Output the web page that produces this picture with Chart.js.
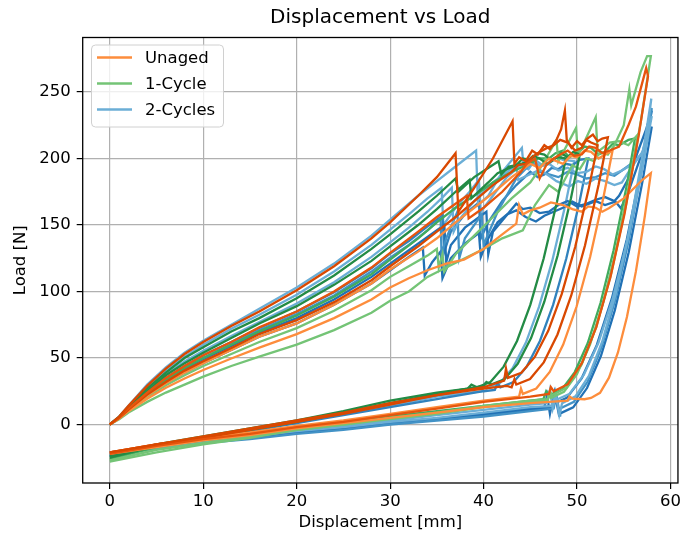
<!DOCTYPE html>
<html>
<head>
<meta charset="utf-8">
<script src="https://cdn.jsdelivr.net/npm/chart.js@4"></script>
<style>
  html, body { margin: 0; padding: 0; background: #fff; }
  canvas { display: block; }
</style>
</head>
<body>
<canvas id="c" width="684" height="535"></canvas>
<script>
// Displacement [mm], Load [N] pairs: loading, unloading and return of each specimen.
const unagedA = [[0,0],[1,6],[2,14],[4,29],[6,42],[8,53],[10,62],[13,74],[16,85],[20,101],[24,119],[28,140],[30,152],[33,172],[35,186],[37,204],[37.3,160],[39,178],[41,200],[43.1,228],[43.3,196],[43.8,201],[44.5,198],[45.2,206],[45.8,203],[46.5,210],[47.1,207],[47.8,214],[48.3,222],[48.7,236],[48.9,214],[49.4,208],[50,213],[50.5,210],[51.1,215],[51.7,218],[52.2,213],[52.7,215],[53.3,216],[52.32,180.7],[50.85,134.6],[49.38,97],[47.91,67.7],[46.44,46.7],[44.97,34.2],[43.5,30],[43.3,34],[43,28],[42.5,29],[40,27],[35,22],[30,16],[25,9],[20,3],[15,-3],[10,-9],[5,-15],[0,-21]];
const unagedB = [[0,0],[1,5.2],[2,12],[4,24],[6,35],[8,44],[10,52],[13,62],[16,73],[20,85],[24,100],[28,118],[30,129],[33,145],[35,156],[37,166],[38.2,172],[38.4,155],[40,163],[42,175],[44,190],[44.6,196],[45.5,200],[46,185],[46.7,195],[47.5,200],[48.2,203],[49,206],[49.7,202],[50.5,203],[51.3,209],[52,208],[52.7,204],[53.5,206],[54.5,209],[55.5,225],[56.3,239],[57.4,268],[57.6,262],[56.59,217],[55.08,158.3],[53.56,110.3],[52.05,73],[50.53,46.3],[49.02,30.3],[47.5,25],[47.2,28],[47,23],[45,21],[40,17],[35,12],[30,7],[25,2],[20,-2],[15,-7],[10,-11],[5,-16],[0,-22]];
const unagedC = [[0,0],[1,4.9],[2,11.2],[4,22.5],[6,32],[8,40.5],[10,47.5],[13,57.5],[16,68],[20,78.5],[24,92],[28,108.5],[30,119],[33,134],[35,145],[37,156],[39,168],[41,180],[43,190],[43.7,195],[44.5,196],[45.2,201],[46,205],[46.8,208],[47.5,210],[48.2,214],[49,212],[49.8,206],[50.5,208],[51,214],[51.5,212],[52.2,210],[51.24,176.8],[49.8,133.4],[48.36,98],[46.92,70.4],[45.48,50.8],[44.04,38.9],[42.6,35],[42.4,42],[42.2,33],[40,28],[35,22],[30,15],[25,8],[20,2],[15,-4],[10,-10],[5,-15],[0,-21]];
const unagedD = [[0,0],[1,4.4],[2,10],[4,19.4],[6,27.6],[8,34.6],[10,41],[13,49.6],[16,57.8],[20,68],[24,80],[28,94],[30,103],[32,110],[34,116],[36,121],[37.9,124],[40,132],[42,143],[43.5,151],[43.8,165],[44.2,158],[45,161],[46,163],[47.2,167],[48.5,165],[49.5,162],[50.5,160],[51.2,164],[52,163],[52.7,160],[53.4,162.6],[55,170],[57,184],[57.9,189],[57.26,156.9],[56.3,115.1],[55.34,80.8],[54.38,54.2],[53.42,35.2],[52.46,23.8],[51.5,20],[50.8,19],[49.5,19.5],[49.2,21],[49,18],[45,16],[40,13],[35,9],[30,5],[25,1],[20,-3],[15,-8],[10,-12],[5,-17],[0,-22]];
const unagedE = [[0,0],[1,4.8],[2,11],[4,21.8],[6,31],[8,39],[10,46],[13,56],[16,66],[20,76],[24,90],[28,106],[30,116.5],[33,130],[35,140],[37,152],[39,163],[41,174],[43,186],[45,196],[46,193],[47,200],[47.8,198],[48.5,196],[49.3,202],[50,201],[50.8,206],[51.5,205],[52.3,200],[53,203],[53.8,206],[52.84,171.2],[51.4,125.9],[49.96,88.9],[48.52,60.1],[47.08,39.5],[45.64,27.1],[44.2,23],[44,27],[43.8,21],[40,18],[35,13],[30,8],[25,3],[20,-1],[15,-6],[10,-10],[5,-15],[0,-21]];

const cycle1A = [[0,0],[1,5.7],[2,13],[4,27],[6,39],[8,50],[10,58],[13,70],[16,80],[20,95],[24,112],[28,132],[30,143],[33,160],[35,172],[37,185],[37.3,175],[39,186],[41.6,198],[41.9,188],[42.7,194],[43.5,195],[44.2,200],[45,199],[45.8,204],[46.5,203],[47.2,199],[48,201],[48.8,200],[47.85,167.3],[46.43,124.8],[45,89.9],[43.58,62.8],[42.15,43.5],[40.73,31.9],[39.3,28],[38.7,30],[38.3,27],[35,24],[30,18],[25,10],[20,3],[15,-3],[10,-9],[5,-15],[0,-24]];
const cycle1B = [[0,0],[1,5.4],[2,12.5],[4,25],[6,37],[8,46],[10,54],[13,65],[16,76],[20,89],[24,105],[28,123],[30,134],[33,150],[35,162],[37,175],[38.5,184],[38.7,170],[40.5,182],[41.5,189],[42.5,192],[43.5,195],[44.5,197],[45.3,202],[46,200],[46.8,196],[47.5,199],[48.3,204],[49,201],[49.6,205],[50.3,203],[49.35,170.1],[47.93,127.3],[46.5,92.3],[45.08,65],[43.65,45.6],[42.23,33.9],[40.8,30],[40.3,32],[40,29],[35,23],[30,16],[25,9],[20,2],[15,-4],[10,-10],[5,-16],[0,-25]];
const cycle1C = [[0,0],[1,4],[2,9],[4,17],[6,24],[8,30],[10,36],[13,44],[16,51],[20,60],[24,71],[28,84],[30,93],[32,100],[34,111],[36,118],[38,125],[40,132],[42,140],[44.2,146],[45.5,165],[47,180],[48,175],[49.5,195],[50.3,192],[51,200],[51.8,198],[52.5,205],[53.3,203],[54,210],[55,225],[55.6,252],[55.8,240],[56.8,265],[57.5,277],[57.9,277],[56.84,228.6],[55.25,165.4],[53.66,113.8],[52.07,73.6],[50.48,45],[48.89,27.7],[47.3,22],[47.1,25],[46.9,19],[45,18],[40,14],[35,9],[30,5],[25,0],[20,-4],[15,-10],[10,-15],[5,-21],[0,-28]];
const cycle1D = [[0,0],[1,4.6],[2,10.5],[4,20.6],[6,29.5],[8,37],[10,44],[13,53],[16,62],[20,72.5],[24,85.5],[28,101],[30,111],[32,119],[34,127],[35,132],[35.2,118],[35.6,128],[35.8,115],[37,128],[39,142],[41,156],[43,170],[45,182],[46,192],[47.8,214],[48,198],[49.9,223],[50.1,202],[52,231],[52.2,205],[53.5,212],[54.5,213],[55.5,210],[56.5,218],[55.57,180.4],[54.18,131.4],[52.78,91.3],[51.39,60.1],[49.99,37.8],[48.6,24.5],[47.2,20],[47,23],[46.8,18],[45,17],[40,13],[35,8],[30,4],[25,0],[20,-4],[15,-9],[10,-14],[5,-19],[0,-27]];
const cycle1E = [[0,0],[1,5],[2,11.5],[4,23],[6,33.5],[8,42.5],[10,50],[13,60],[16,70],[20,82],[24,96],[28,113],[30,124],[33,140],[35,152],[37,163],[39,172],[41,182],[43,190],[45,196],[45.8,200],[47,200],[47.7,204],[48.5,206],[49.2,201],[50,204],[50.8,209],[51.5,208],[52.3,203],[53,205],[53.8,211],[54.5,210],[55.5,214],[56.2,215],[55.28,178.3],[53.9,130.6],[52.52,91.5],[51.14,61.1],[49.76,39.4],[48.38,26.3],[47,22],[46.7,25],[46.4,19],[45,18],[40,14],[35,10],[30,6],[25,1],[20,-3],[15,-8],[10,-12],[5,-17],[0,-26]];

const cycle2A = [[0,0],[1,6],[2,14],[4,30],[6,43],[8,54],[10,63],[13,75],[16,87],[20,103],[24,121],[28,142],[30,154],[33,172],[35,183],[37,194],[39.2,206],[39.4,165],[40.5,172],[42,190],[44.1,208],[44.3,192],[45.3,198],[46.1,194],[47,196],[48,191],[49,193],[50,189],[51,190],[52,194],[52.9,192],[53.8,188],[54.8,191],[56,196],[57,204],[57.6,225],[57.95,245],[56.99,201.5],[55.56,144.8],[54.13,98.4],[52.7,62.4],[51.27,36.6],[49.83,21.2],[48.4,16],[48.1,7],[47.7,24],[47.4,14],[45,13],[40,9],[35,5],[30,2],[25,-2],[20,-5],[15,-9],[10,-13],[5,-17],[0,-24]];
const cycle2B = [[0,0],[1,5.5],[2,12.7],[4,26],[6,37.5],[8,47.3],[10,55.5],[13,66.5],[16,77],[20,91],[24,107],[28,126],[30,137],[32,148],[34,160],[35.5,170],[36.6,178],[36.8,145],[37.5,155],[39,168],[41,182],[43.5,195],[43.7,184],[46,191.5],[47,187],[47.8,183],[49.2,179],[50.1,183],[51,181],[52,185],[53,183],[54,180],[54.8,182],[55.9,194],[57,205],[57.7,222],[58,232],[56.96,191.3],[55.4,138.4],[53.84,95],[52.28,61.3],[50.72,37.3],[49.16,22.8],[47.6,18],[47.4,12],[47.1,26],[46.8,16],[45,15],[40,11],[35,7],[30,3],[25,-1],[20,-4],[15,-8],[10,-12],[5,-16],[0,-21]];
const cycle2C = [[0,0],[1,5.1],[2,11.7],[4,23.6],[6,34],[8,43],[10,50],[13,60.5],[16,71],[20,83],[24,97],[28,115],[30,125.5],[32,135],[34,146],[35.4,155],[35.5,128],[36,140],[37.2,160],[37.4,125],[38,140],[39.8,158],[40,135],[41.5,160],[43.5,185],[45.3,198],[46,190],[47,188],[48,186],[49,190],[50,188],[51,185],[52,186],[53,189],[54,187],[54.8,191],[56,197],[57,204],[57.6,220],[58,238],[57.02,195.1],[55.55,139.1],[54.08,93.4],[52.61,57.8],[51.14,32.3],[49.67,17.1],[48.2,12],[48.2,6],[47.8,22],[47.5,12],[45,10],[40,6],[35,3],[30,0],[25,-4],[20,-7],[15,-11],[10,-14],[5,-18],[0,-23]];
const cycle2D = [[0,0],[1,4.8],[2,11],[4,22],[6,31],[8,39],[10,46],[13,56],[16,66],[20,76],[24,90],[28,106],[30,116],[32,126],[33.5,133],[33.7,112],[34.5,122],[35.4,130],[35.6,110],[36.5,125],[38,136],[39.5,144],[39.7,126],[40.5,140],[41.5,152],[42.5,158],[43.5,161],[44.5,156],[45.6,152.6],[46.5,157],[47.5,160],[48.5,163],[49.5,167.6],[50.5,164],[51.3,166],[52,168],[53,165],[54.1,167.6],[54.7,162.6],[55.5,175],[56.5,195],[57.4,212],[58,224],[57.01,183],[55.53,129.5],[54.04,85.8],[52.56,51.7],[51.07,27.4],[49.59,12.9],[48.1,8],[48.1,6],[47.6,24],[47.3,13],[45,11],[40,7],[35,4],[30,0.5],[25,-3],[20,-6],[15,-10],[10,-13],[5,-17],[0,-22]];
const cycle2E = [[0,0],[1,5],[2,11.5],[4,23],[6,33],[8,42],[10,49],[13,59],[16,69],[20,80],[24,94],[28,111],[30,121],[32,131],[34,141],[35.8,150],[36,122],[36.5,135],[38,148],[40.3,160],[40.5,128],[41,145],[43.5,166],[44.2,162],[45,163],[46,159],[47,160],[48,165],[49,168],[50,164],[51,166],[52,169],[53,171],[54,168],[54.5,172],[55.5,185],[56.5,205],[57.4,222],[58,236],[56.93,194],[55.33,139.3],[53.72,94.6],[52.12,59.8],[50.51,34.9],[48.91,20],[47.3,15],[47.1,8],[46.8,22],[46.5,13],[45,12],[40,8],[35,4],[30,1],[25,-3],[20,-6],[15,-10],[10,-13],[5,-17],[0,-21]];
const cycle2F = [[0,0],[1,5.2],[2,12],[4,24],[6,35],[8,44],[10,52],[13,62],[16,72.5],[20,85],[24,99.5],[28,117.5],[30,128.5],[32,138],[34,149],[35.6,157],[35.8,130],[36.5,145],[38,158],[39.5,167],[39.7,140],[40.5,152],[42,168],[43.5,180],[45,190],[45.8,186],[46.5,188],[47.3,193],[48,192],[48.8,196],[49.5,195],[50.3,199],[51.2,200],[50.26,167.3],[48.85,124.8],[47.44,89.9],[46.03,62.8],[44.62,43.5],[43.21,31.9],[41.8,28],[41.5,31],[41.2,26],[40,25],[35,19],[30,13],[25,7],[20,1],[15,-5],[10,-11],[5,-16],[0,-24]];
const cycle2G = [[0,0],[1,5.8],[2,13.5],[4,28],[6,40.5],[8,51],[10,60],[13,72],[16,82.5],[20,97.5],[24,115],[28,135],[30,146.5],[32,158],[34,170],[35.5,178],[35.7,150],[37,163],[38.5,175],[39.5,184],[39.7,160],[41,172],[42.5,186],[44,195],[44.8,192],[45.5,199],[46.3,195],[47,196],[47.8,201],[48.5,199],[49.7,198],[48.76,165.5],[47.35,123.2],[45.94,88.6],[44.53,61.6],[43.12,42.4],[41.71,30.8],[40.3,27],[40.1,30],[39.8,25],[35,21],[30,14],[25,8],[20,2],[15,-4],[10,-10],[5,-15],[0,-23]];

const groupNames = ['Unaged', '1-Cycle', '2-Cycles'];
const xTicks = [0, 10, 20, 30, 40, 50, 60];
const yTicks = [0, 50, 100, 150, 200, 250];

// Line colours: light, mid and dark shades per group
const shades = {
  orangeLight: '#fd8d3c', orangeDark: '#d94801', orangeMid: '#e6550d',
  greenLight: '#74c476', greenDark: '#238b45', greenMid: '#41ab5d',
  blueLight: '#6baed6', blueDark: '#2171b5', blueMid: '#4292c6', blueMid2: '#3182bd'
};
const legendColors = ['#fd8d3c', '#74c476', '#6baed6'];

const specimens = [
  [unagedA, shades.orangeDark], [unagedB, shades.orangeMid], [unagedC, shades.orangeDark],
  [unagedD, shades.orangeLight], [unagedE, shades.orangeLight],
  [cycle1A, shades.greenDark], [cycle1B, shades.greenDark], [cycle1C, shades.greenLight],
  [cycle1D, shades.greenLight], [cycle1E, shades.greenMid],
  [cycle2A, shades.blueLight], [cycle2B, shades.blueLight], [cycle2C, shades.blueMid],
  [cycle2D, shades.blueDark], [cycle2E, shades.blueDark], [cycle2F, shades.blueMid2],
  [cycle2G, shades.blueLight]
];

const FONT = '"DejaVu Sans", "Liberation Sans", sans-serif';

const datasets = specimens.map(([pts, color]) => ({
  data: pts.map(([x, y]) => ({ x, y })),
  showLine: true,
  borderColor: color,
  backgroundColor: color,
  borderWidth: 2.3,
  pointRadius: 0,
  tension: 0,
  fill: false
}));

// Axes frame, title and legend box drawn onto the canvas
const decorations = {
  id: 'decorations',
  afterDatasetsDraw(chart) {
    const { ctx, chartArea: a } = chart;
    ctx.save();
    ctx.strokeStyle = '#000';
    ctx.lineWidth = 1.3;
    ctx.strokeRect(a.left, a.top, a.right - a.left, a.bottom - a.top);

    // title
    ctx.fillStyle = '#000';
    ctx.font = '20px ' + FONT;
    ctx.textAlign = 'center';
    ctx.textBaseline = 'middle';
    ctx.fillText('Displacement vs Load', (a.left + a.right) / 2, 18);

    // legend
    const bx = 91.5, by = 45, bw = 132, bh = 82, r = 4;
    ctx.beginPath();
    ctx.moveTo(bx + r, by);
    ctx.arcTo(bx + bw, by, bx + bw, by + bh, r);
    ctx.arcTo(bx + bw, by + bh, bx, by + bh, r);
    ctx.arcTo(bx, by + bh, bx, by, r);
    ctx.arcTo(bx, by, bx + bw, by, r);
    ctx.closePath();
    ctx.fillStyle = 'rgba(255,255,255,0.8)';
    ctx.fill();
    ctx.strokeStyle = '#d0d0d0';
    ctx.lineWidth = 1;
    ctx.stroke();
    ctx.font = '16.5px ' + FONT;
    ctx.textAlign = 'left';
    groupNames.forEach((name, i) => {
      const yy = 57.5 + i * 26;
      ctx.strokeStyle = legendColors[i];
      ctx.lineWidth = 2.5;
      ctx.beginPath();
      ctx.moveTo(97, yy);
      ctx.lineTo(132, yy);
      ctx.stroke();
      ctx.fillStyle = '#000';
      ctx.fillText(name, 145, yy + 1);
    });
    ctx.restore();
  }
};

const gridCfg = { color: '#b0b0b0', lineWidth: 1.2, tickColor: '#000', tickLength: 6, drawTicks: true };
const tickFont = { family: FONT, size: 16.5 };

new Chart(document.getElementById('c'), {
  type: 'scatter',
  data: { datasets },
  options: {
    responsive: false,
    animation: false,
    devicePixelRatio: 1,
    layout: { padding: { top: 37.5, right: 2, left: 0, bottom: 0 } },
    plugins: { legend: { display: false }, tooltip: { enabled: false }, title: { display: false } },
    scales: {
      x: {
        type: 'linear', min: -2.9, max: 60.8,
        afterBuildTicks: s => { s.ticks = xTicks.map(v => ({ value: v })); },
        afterFit: s => { s.height = 52; },
        grid: gridCfg,
        border: { display: false },
        ticks: { font: tickFont, color: '#000', padding: 3, maxRotation: 0, autoSkip: false },
        title: { display: true, text: 'Displacement [mm]', font: { family: FONT, size: 16.5 }, color: '#000', padding: { top: 0, bottom: 2 } }
      },
      y: {
        type: 'linear', min: -44, max: 291,
        afterBuildTicks: s => { s.ticks = yTicks.map(v => ({ value: v })); },
        afterFit: s => { s.width = 82.7; },
        grid: gridCfg,
        border: { display: false },
        ticks: { font: tickFont, color: '#000', padding: 6, autoSkip: false },
        title: { display: true, text: 'Load [N]', font: { family: FONT, size: 16.5 }, color: '#000', padding: { top: 11, bottom: 0 } }
      }
    }
  },
  plugins: [decorations]
});
</script>
</body>
</html>
